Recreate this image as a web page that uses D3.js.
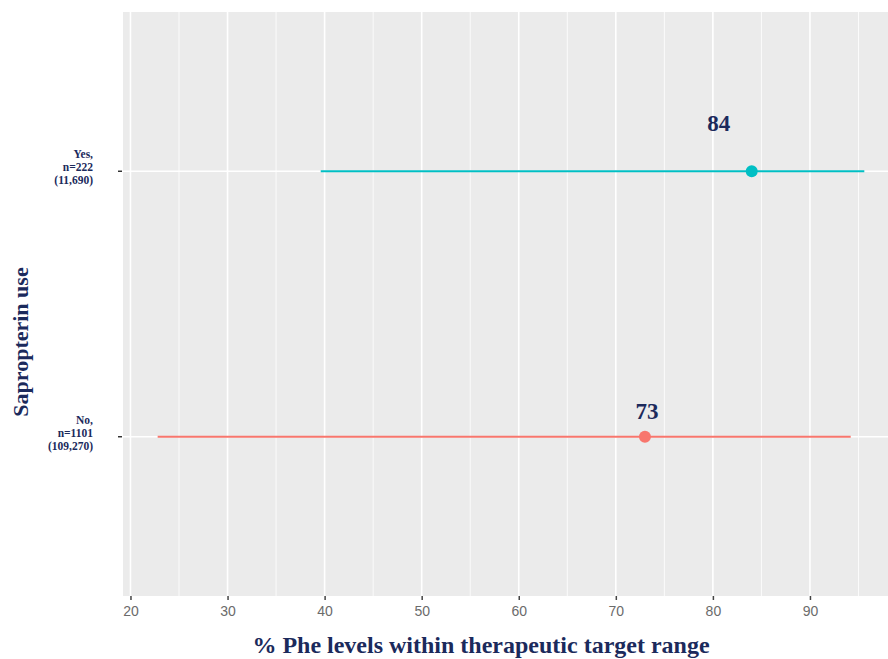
<!DOCTYPE html>
<html><head><meta charset="utf-8">
<script src="https://cdn.jsdelivr.net/npm/d3@7"></script>
<style>body{margin:0;background:#fff}</style>
</head><body>
<svg id="c" width="888" height="659"></svg>
<script>
const categories = ["No,\nn=1101\n(109,270)", "Yes,\nn=222\n(11,690)"];
const estimates = [73, 84];
const lower = [22.8, 39.6];
const upper = [94.2, 95.6];
const colors = ["#F8766D", "#00BFC4"];
const xTicks = [20, 30, 40, 50, 60, 70, 80, 90];
const xMinor = [25, 35, 45, 55, 65, 75, 85, 95];

const svg = d3.select("#c");
const L = 123, R = 888, T = 12, B = 596;
const x = d3.scaleLinear().domain([19.23, 98.04]).range([L, R]);
const y = d3.scaleLinear().domain([0.4, 2.6]).range([B, T]);
const navy = "#1b2a5c";
const serif = "Liberation Serif, Times New Roman, serif";

svg.append("rect").attr("x", L).attr("y", T).attr("width", R - L).attr("height", B - T).attr("fill", "#EBEBEB");
const g = svg.append("g");
g.selectAll(".mn").data(xMinor).join("line").attr("x1", d => x(d)).attr("x2", d => x(d)).attr("y1", T).attr("y2", B).attr("stroke", "#fff").attr("stroke-width", 0.8);
g.selectAll(".mj").data(xTicks).join("line").attr("x1", d => x(d)).attr("x2", d => x(d)).attr("y1", T).attr("y2", B).attr("stroke", "#fff").attr("stroke-width", 1.6);
g.selectAll(".hy").data(categories).join("line").attr("x1", L).attr("x2", R).attr("y1", (d, i) => y(i + 1)).attr("y2", (d, i) => y(i + 1)).attr("stroke", "#fff").attr("stroke-width", 1.6);

// x axis
const xa = svg.append("g").attr("transform", `translate(0,${B})`).call(d3.axisBottom(x).tickValues(xTicks).tickSize(4).tickPadding(6).tickFormat(d3.format("d")));
xa.select(".domain").remove();
xa.selectAll("line").attr("stroke", "#444").attr("stroke-width", 1.5);
xa.selectAll("text").attr("fill", "#6b6b6b").attr("font-family", "Liberation Sans, Arial, sans-serif").attr("font-size", 14);

// y ticks
const ya = svg.append("g");
ya.selectAll("line").data(categories).join("line").attr("x1", L - 5).attr("x2", L - 1).attr("y1", (d, i) => y(i + 1)).attr("y2", (d, i) => y(i + 1)).attr("stroke", "#333").attr("stroke-width", 1.5);
ya.selectAll("text").data(categories).join("text")
  .attr("x", 93).attr("y", (d, i) => y(i + 1))
  .attr("text-anchor", "end").attr("font-family", serif).attr("font-weight", "bold").attr("font-size", 11.5).attr("fill", navy)
  .each(function (d) {
    const parts = d.split("\n");
    const t = d3.select(this);
    parts.forEach((p, k) => t.append("tspan").attr("x", 93).attr("dy", k === 0 ? -13 : 13).text(p));
  });

// intervals
const rows = categories.map((c, i) => ({ i, est: estimates[i], lo: lower[i], hi: upper[i], col: colors[i] }));
svg.selectAll(".ci").data(rows).join("line").attr("x1", d => x(d.lo)).attr("x2", d => x(d.hi)).attr("y1", d => y(d.i + 1)).attr("y2", d => y(d.i + 1)).attr("stroke", d => d.col).attr("stroke-width", 2.2);
svg.selectAll(".pt").data(rows).join("circle").attr("cx", d => x(d.est)).attr("cy", d => y(d.i + 1)).attr("r", 6).attr("fill", d => d.col);
const labOffset = [0.2, -3.4];
const labRise = [18, 40];
svg.selectAll(".lb").data(rows).join("text").attr("x", d => x(d.est + labOffset[d.i])).attr("y", d => y(d.i + 1) - labRise[d.i])
  .attr("text-anchor", "middle").attr("font-family", serif).attr("font-weight", "bold").attr("font-size", 23).attr("fill", navy).text(d => d.est);

// titles
svg.append("text").attr("x", 481).attr("y", 653).attr("text-anchor", "middle").attr("font-family", serif).attr("font-weight", "bold").attr("font-size", 24).attr("fill", navy).text("% Phe levels within therapeutic target range");
svg.append("text").attr("transform", "translate(28,342) rotate(-90)").attr("text-anchor", "middle").attr("font-family", serif).attr("font-weight", "bold").attr("font-size", 22).attr("fill", navy).text("Sapropterin use");
</script>
</body></html>
